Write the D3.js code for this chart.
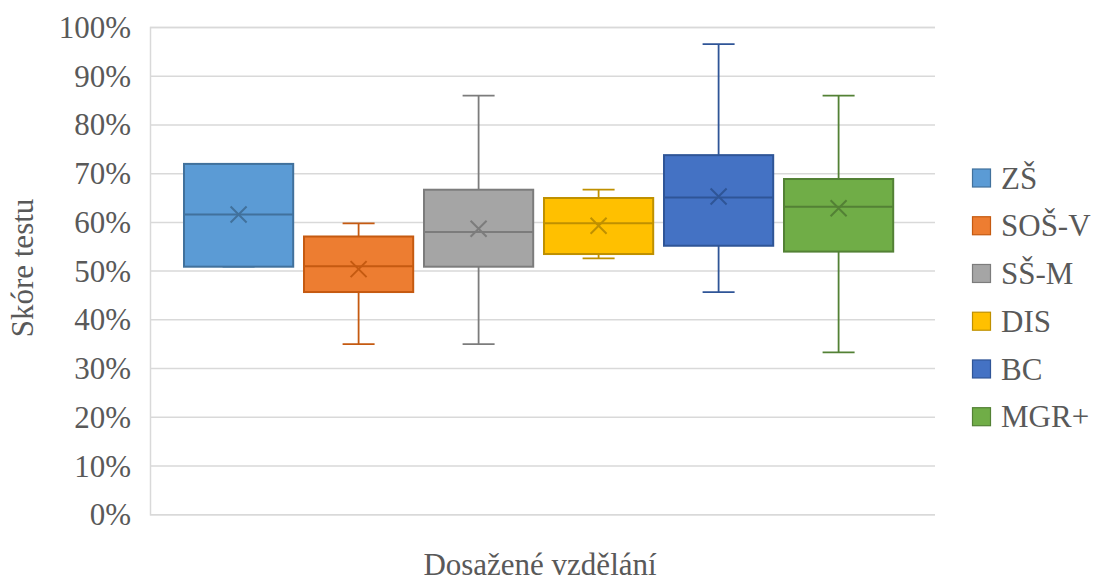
<!DOCTYPE html>
<html>
<head>
<meta charset="utf-8">
<script src="https://cdn.jsdelivr.net/npm/d3@7/dist/d3.min.js"></script>
<style>
  html, body { margin: 0; padding: 0; background: #fff; }
  svg { display: block; }
  svg text { font-family: "Liberation Serif", "Times New Roman", Tinos, "DejaVu Serif", serif !important; fill: #595959; }
</style>
</head>
<body>
<svg id="chart" width="1095" height="581"></svg>
<script>
const categories = ["ZŠ", "SOŠ-V", "SŠ-M", "DIS", "BC", "MGR+"];
const minVals    = [0.508, 0.349, 0.349, 0.525, 0.456, 0.332];
const q1Vals     = [0.508, 0.456, 0.508, 0.534, 0.551, 0.539];
const medianVals = [0.615, 0.509, 0.579, 0.597, 0.650, 0.631];
const q3Vals     = [0.719, 0.570, 0.666, 0.649, 0.737, 0.688];
const maxVals    = [0.719, 0.597, 0.859, 0.666, 0.965, 0.859];
const meanVals   = [0.615, 0.503, 0.586, 0.592, 0.652, 0.628];
const yTicks     = [0, 0.1, 0.2, 0.3, 0.4, 0.5, 0.6, 0.7, 0.8, 0.9, 1.0];
const fills      = ["#5B9BD5", "#ED7D31", "#A5A5A5", "#FFC000", "#4472C4", "#70AD47"];
const strokes    = ["#41719C", "#C55A11", "#7C7C7C", "#BF9000", "#2F5597", "#538135"];
const yTitle = "Skóre testu";
const xTitle = "Dosažené vzdělání";

const FONT = '"Liberation Serif", "Times New Roman", Tinos, "DejaVu Serif", serif';
const FS = 31;
const svg = d3.select("#chart");
const plotLeft = 150, plotRight = 935;
const y = d3.scaleLinear().domain([0, 1]).range([514.2, 27]);
const x = d3.scaleBand().domain(categories).range([178.6, 898.6])
  .paddingInner(0.09).paddingOuter(0.045);

const data = categories.map((c, i) => ({
  c, i, min: minVals[i], q1: q1Vals[i], med: medianVals[i], q3: q3Vals[i],
  max: maxVals[i], mean: meanVals[i], fill: fills[i], stroke: strokes[i]
}));

// gridlines + y axis
const yAxis = d3.axisLeft(y).tickValues(yTicks).tickFormat(d3.format(".0%"))
  .tickSize(-(plotRight - plotLeft)).tickPadding(19);
const gAxis = svg.append("g").attr("transform", `translate(${plotLeft},0)`).call(yAxis)
  .attr("font-family", FONT).attr("font-size", FS);
gAxis.select(".domain").attr("stroke", "#D9D9D9").attr("stroke-width", 1.5);
gAxis.selectAll(".tick line").attr("stroke", "#D9D9D9").attr("stroke-width", 1.5);
gAxis.selectAll(".tick text").attr("font-size", FS).attr("fill", "#595959")
  .attr("font-family", FONT).attr("dy", "0.34em");

const bw = x.bandwidth();
const capW = 32;
const g = svg.append("g");
data.forEach(d => {
  const cx = x(d.c) + bw / 2;
  const gg = g.append("g");
  gg.append("line").attr("x1", cx).attr("x2", cx).attr("y1", y(d.q3)).attr("y2", y(d.max))
    .attr("stroke", d.stroke).attr("stroke-width", 1.8);
  gg.append("line").attr("x1", cx).attr("x2", cx).attr("y1", y(d.q1)).attr("y2", y(d.min))
    .attr("stroke", d.stroke).attr("stroke-width", 1.8);
  [d.max, d.min].forEach(v => {
    gg.append("line").attr("x1", cx - capW / 2).attr("x2", cx + capW / 2)
      .attr("y1", y(v)).attr("y2", y(v)).attr("stroke", d.stroke).attr("stroke-width", 1.8);
  });
  gg.append("rect").attr("x", x(d.c)).attr("width", bw)
    .attr("y", y(d.q3)).attr("height", y(d.q1) - y(d.q3))
    .attr("fill", d.fill).attr("stroke", d.stroke).attr("stroke-width", 2);
  gg.append("line").attr("x1", x(d.c)).attr("x2", x(d.c) + bw)
    .attr("y1", y(d.med)).attr("y2", y(d.med)).attr("stroke", d.stroke).attr("stroke-width", 2);
  const s = 8, my = y(d.mean);
  gg.append("path").attr("d", `M${cx - s},${my - s}L${cx + s},${my + s}M${cx - s},${my + s}L${cx + s},${my - s}`)
    .attr("stroke", d.stroke).attr("stroke-width", 2).attr("fill", "none");
});

svg.append("text").attr("x", 540).attr("y", 575).attr("text-anchor", "middle")
  .attr("font-family", FONT).attr("font-size", FS).text(xTitle);
svg.append("text").attr("transform", "translate(33,268) rotate(-90)").attr("text-anchor", "middle")
  .attr("font-family", FONT).attr("font-size", FS).text(yTitle);

const leg = svg.append("g");
const legY = d3.scalePoint().domain(categories).range([178, 416.7]);
data.forEach(d => {
  const cy = legY(d.c);
  leg.append("rect").attr("x", 972.5).attr("y", cy - 9).attr("width", 18).attr("height", 18)
    .attr("fill", d.fill).attr("stroke", d.stroke).attr("stroke-width", 1.2);
  leg.append("text").attr("x", 1001).attr("y", cy).attr("dy", "0.34em")
    .attr("font-family", FONT).attr("font-size", FS).text(d.c);
});
</script>
</body>
</html>
